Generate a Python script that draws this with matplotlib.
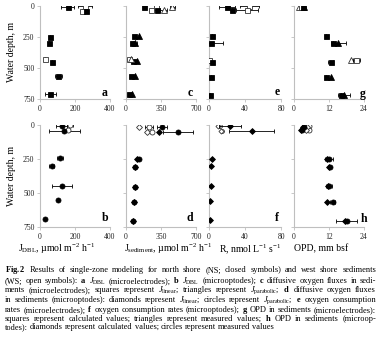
import numpy as np
import matplotlib.pyplot as plt

plt.rcParams['font.family'] = ['Liberation Serif', 'DejaVu Serif']
plt.rcParams['mathtext.fontset'] = 'custom'
plt.rcParams['mathtext.rm'] = 'Liberation Serif'
plt.rcParams['mathtext.it'] = 'Liberation Serif:italic'
plt.rcParams['mathtext.bf'] = 'Liberation Serif:bold'

# ---- data (depth in m) ----
# a: J_DBL microelectrodes
a_ns_x = [158, 263, 57, 51, 70, 105, 59]
a_ns_d = [5, 38, 247, 301, 449, 564, 709]
a_ns_e = [36, 0, 0, 0, 0, 20, 33]
a_ws_x = [257, 238, 29]
a_ws_d = [3, 38, 430]
a_ws_e = [38, 0, 0]

# b: J_DBL microoptodes
b_ns_x = [124, 139, 114, 67, 127, 101, 29]
b_ns_d = [5, 45, 245, 301, 446, 551, 691]
b_ns_e = [30, 90, 15, 15, 58, 0, 0]
b_ws_x = [170, 158]
b_ws_d = [0, 37]
b_ws_e = [18, 0]

# c: J_sediment microelectrodes (squares linear, triangles parabolic)
c_ns_sq_x = [180, 313, 80, 57, 70, 53, 30]
c_ns_sq_d = [5, 30, 245, 296, 443, 562, 709]
c_ns_tr_x = [130, 87, 107, 87, 57]
c_ns_tr_d = [245, 296, 443, 562, 709]
c_ns_tr_e = [0, 20, 0, 0, 0]
c_ws_sq_x = [300, 250, 30]
c_ws_sq_d = [5, 30, 425]
c_ws_tr_x = [460, 375, 45]
c_ws_tr_d = [5, 30, 425]
c_ws_tr_e = [25, 35, 0]

# d: J_sediment microoptodes (diamonds linear, circles parabolic)
d_ns_di_x = [330, 107, 90, 90, 80, 67]
d_ns_di_d = [50, 252, 311, 458, 568, 706]
d_ns_ci_x = [357, 517, 130, 92, 92, 82, 69]
d_ns_ci_d = [15, 50, 252, 311, 458, 568, 706]
d_ns_ci_e = [50, 150, 0, 0, 0, 0, 0]
d_ws_di_x = [130, 210]
d_ws_di_d = [15, 50]
d_ws_ci_x = [225, 255]
d_ws_ci_d = [15, 50]
d_ws_ci_e = [40, 0]

# e: R microelectrodes
e_ns_x = [19.6, 25.6, 3.7, 2.2, 3.0, 2.2, 1.1]
e_ns_d = [5, 35, 242, 301, 451, 572, 717]
e_ns_e = [9, 0, 0, 13, 0, 0, 0]
e_ws_x = [44.8, 41.9, 0.5]
e_ws_d = [3, 35, 435]
e_ws_e = [10.5, 12, 0]

# f: R microoptodes
f_ns_x = [23, 47.4, 3, 1.9, 1.9, 1.1, 0.7]
f_ns_d = [5, 42, 250, 301, 448, 556, 698]
f_ns_e = [12, 25, 0, 0, 0, 0, 0]
f_ws_di_x = [10.4, 13]
f_ws_di_d = [5, 42]
f_ws_ci_x = [12, 14]
f_ws_ci_d = [5, 42]

# g: OPD microelectrodes (squares calculated, triangles measured)
g_ns_sq_x = [3.0, 10.9, 13.5, 12.6, 11.0, 16.0]
g_ns_sq_d = [5, 242, 301, 451, 575, 717]
g_ns_sq_e = [0, 0, 0, 0.8, 0, 0]
g_ns_tr_x = [3.5, 15.2, 12.7, 17.1]
g_ns_tr_d = [10, 301, 575, 717]
g_ns_tr_e = [0, 2.5, 0, 2.0]
g_ws_sq_x = [2.3, 21.3]
g_ws_sq_d = [5, 435]
g_ws_sq_e = [0, 1.2]
g_ws_tr_x = [1.8, 19.4]
g_ws_tr_d = [5, 435]

# h: OPD microoptodes (diamonds calculated, circles measured)
h_ns_di_x = [3.1, 2.3, 11.3, 12.0, 11.8, 11.3, 17.5]
h_ns_di_d = [12, 37, 250, 306, 448, 564, 706]
h_ns_ci_x = [3.5, 2.8, 12.0, 12.4, 12.1, 13.2, 18.0]
h_ns_ci_d = [12, 37, 250, 306, 448, 564, 706]
h_ns_ci_e = [0, 0, 1.3, 0, 1.0, 1.0, 3.5]
h_ws_di_x = [4.6, 4.0]
h_ws_di_d = [12, 37]
h_ws_ci_x = [5.3, 5.3]
h_ws_ci_d = [10, 37]

depth_ticks = [0, 250, 500, 750]
xticks = {'a': [0, 200, 400], 'c': [0, 350, 700], 'e': [0, 40, 80], 'g': [0, 12, 24]}

W, H = 381, 339
fig = plt.figure(figsize=(W / 100, H / 100), dpi=100)
gray = '#BFBFBF'


def px_axes(left, top, width, height):
    return fig.add_axes([left / W, 1 - (top + height) / H, width / W, height / H])


def pts(ax, x, d, marker, filled, err=None, ms=3.6):
    kw = dict(marker=marker, linestyle='none', ms=ms, mew=0.6, zorder=3)
    if filled:
        kw.update(mfc='black', mec='black')
    else:
        kw.update(mfc='white', mec='#333333')
    if err is not None:
        ax.errorbar(x, d, xerr=err, ecolor='black', elinewidth=0.6,
                    capsize=1.5, capthick=0.6, **kw)
    else:
        ax.plot(x, d, **kw)


lefts = [40, 126, 209, 294]
widths = [70, 70, 72, 70]
rows = [(6, 93), (125, 102)]
axes = {}
names = [['a', 'c', 'e', 'g'], ['b', 'd', 'f', 'h']]
for r, (top, h) in enumerate(rows):
    for c in range(4):
        ax = px_axes(lefts[c], top, widths[c], h)
        key = names[r][c]
        axes[key] = ax
        tk = xticks[names[0][c]]
        ax.set_xlim(tk[0], tk[-1])
        ax.set_ylim(750, 0)
        ax.set_xticks(tk)
        ax.set_yticks(depth_ticks)
        for s in ['top', 'right']:
            ax.spines[s].set_visible(False)
        for s in ['left', 'bottom']:
            ax.spines[s].set_color(gray)
            ax.spines[s].set_linewidth(0.8)
        ax.tick_params(colors=gray, labelcolor='#222222', labelsize=5.5,
                       length=2.5, width=0.6, pad=1.5)
        if c > 0:
            ax.tick_params(axis='y', labelleft=False)
        ax.patch.set_alpha(0)

ax = axes['a']
pts(ax, a_ws_x, a_ws_d, 's', False, a_ws_e)
pts(ax, a_ns_x, a_ns_d, 's', True, a_ns_e)

ax = axes['b']
pts(ax, b_ws_x, b_ws_d, 'o', False, b_ws_e)
pts(ax, b_ns_x, b_ns_d, 'o', True, b_ns_e)

ax = axes['c']
pts(ax, c_ws_sq_x, c_ws_sq_d, 's', False)
pts(ax, c_ws_tr_x, c_ws_tr_d, '^', False, c_ws_tr_e, ms=4)
pts(ax, c_ns_tr_x, c_ns_tr_d, '^', True, c_ns_tr_e, ms=4)
pts(ax, c_ns_sq_x, c_ns_sq_d, 's', True)

ax = axes['d']
pts(ax, d_ws_di_x, d_ws_di_d, 'D', False, ms=3)
pts(ax, d_ws_ci_x, d_ws_ci_d, 'o', False, d_ws_ci_e)
pts(ax, d_ns_ci_x, d_ns_ci_d, 'o', True, d_ns_ci_e)
pts(ax, d_ns_di_x, d_ns_di_d, 'D', True, ms=3)

ax = axes['e']
pts(ax, e_ws_x, e_ws_d, 's', False, e_ws_e)
pts(ax, e_ns_x, e_ns_d, 's', True, e_ns_e)

ax = axes['f']
pts(ax, f_ws_ci_x, f_ws_ci_d, 'o', False, ms=2.8)
pts(ax, f_ws_di_x, f_ws_di_d, 'D', False, ms=2.6)
pts(ax, f_ns_x, f_ns_d, 'D', True, f_ns_e, ms=3)

ax = axes['g']
pts(ax, g_ws_tr_x, g_ws_tr_d, '^', False, ms=4)
pts(ax, g_ws_sq_x, g_ws_sq_d, 's', False, g_ws_sq_e)
pts(ax, g_ns_tr_x, g_ns_tr_d, '^', True, g_ns_tr_e, ms=4)
pts(ax, g_ns_sq_x, g_ns_sq_d, 's', True, g_ns_sq_e)

ax = axes['h']
pts(ax, h_ws_ci_x, h_ws_ci_d, 'o', False)
pts(ax, h_ws_di_x, h_ws_di_d, 'D', False, ms=3)
pts(ax, h_ns_ci_x, h_ns_ci_d, 'o', True, h_ns_ci_e)
pts(ax, h_ns_di_x, h_ns_di_d, 'D', True, ms=3)


def ftext(x, y, s, **kw):
    return fig.text(x / W, 1 - y / H, s, **kw)


# panel letters
letters = {'a': (105, 93), 'c': (190, 93), 'e': (277, 92), 'g': (363, 94),
           'b': (105, 218), 'd': (190, 218), 'f': (277, 218), 'h': (364, 219)}
for k, (x, y) in letters.items():
    ftext(x, y, k, fontsize=8.5, fontweight='bold', ha='center', va='center')

# y labels
for y in [52, 176]:
    ftext(12, y, 'Water depth, m', fontsize=7, rotation=90, ha='center', va='center')

# x labels (bottom row only)
xlabels = [(57, r'$\mathrm{J}_{\mathrm{DBL}}$, µmol m$^{-2}$ h$^{-1}$'),
           (168, r'$\mathrm{J}_{\mathrm{sediment}}$, µmol m$^{-2}$ h$^{-1}$'),
           (250, r'R, nmol L$^{-1}$ s$^{-1}$'),
           (321, 'OPD, mm bsf')]
for x, s in xlabels:
    ftext(x, 249, s, fontsize=7, ha='center', va='center')

# caption, justified line by line
caption = [
    r'$\mathbf{Fig.2}$ Results of single-zone modeling for north shore (NS; closed symbols) and west shore sediments',
    r'(WS; open symbols): $\mathbf{a}$ $J_{\mathrm{DBL}}$ (microelectrodes); $\mathbf{b}$ $J_{\mathrm{DBL}}$ (microoptodes); $\mathbf{c}$ diffusive oxygen fluxes in sedi-',
    r'ments (microelectrodes); squares represent $J_{\mathrm{linear}}$; triangles represent $J_{\mathrm{parabolic}}$; $\mathbf{d}$ diffusive oxygen fluxes',
    r'in sediments (microoptodes): diamonds represent $J_{\mathrm{linear}}$; circles represent $J_{\mathrm{parabolic}}$; $\mathbf{e}$ oxygen consumption',
    r'rates (microelectrodes); $\mathbf{f}$ oxygen consumption rates (microoptodes); $\mathbf{g}$ OPD in sediments (microelectrodes):',
    r'squares represent calculated values; triangles represent measured values; $\mathbf{h}$ OPD in sediments (microop-',
    r'todes): diamonds represent calculated values; circles represent measured values',
]
cap_y = [272.5, 283.4, 292.0, 302.0, 312.0, 320.6, 329.2]
x0, x1 = 5, 376
renderer = fig.canvas.get_renderer()
for i, (line, y) in enumerate(zip(caption, cap_y)):
    words = line.split(' ')
    last = i == len(caption) - 1
    fs = 6.0
    while True:
        texts = [ftext(0, y, w, fontsize=fs, ha='left', va='baseline') for w in words]
        wd = [t.get_window_extent(renderer).width for t in texts]
        gap = (x1 - x0 - sum(wd)) / (len(words) - 1)
        if gap >= 1.8 or fs < 5:
            break
        for t in texts:
            t.remove()
        fs -= 0.1
    if last:
        gap = 2.0
    x = x0
    for t, w in zip(texts, wd):
        t.set_x(x / W)
        x += w + gap

fig.savefig('out.png', dpi=100)
